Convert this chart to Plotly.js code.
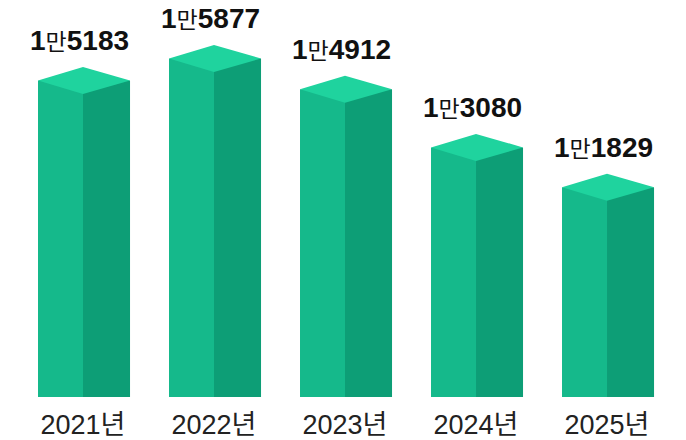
<!DOCTYPE html>
<html>
<head>
<meta charset="utf-8">
<script src="https://cdn.plot.ly/plotly-3.0.1.min.js"></script>
<style>
html,body{margin:0;padding:0;background:#fff;}
#chart{width:686px;height:440px;}
</style>
</head>
<body>
<div id="chart"></div>
<script>
// ---- data ----
const years = ["2021년", "2022년", "2023년", "2024년", "2025년"];
const values = [15183, 15877, 14912, 13080, 11829];
const labelMan = ["1", "1", "1", "1", "1"];        // 만 unit part
const labelRest = ["5183", "5877", "4912", "3080", "1829"];

// ---- style / geometry ----
const colTop = "#1fd39e";
const colLeft = "#15b98b";
const colRight = "#0d9e76";
const wLeft = 0.3435;   // left face width (x units)
const wRight = 0.359;   // right face width (x units)
const yMin = 5232, yMax = 17402; // axis range
const plotH = 440 - 43 - 10;
const pxPerUnit = plotH / (yMax - yMin);
const dTop = 13.5 / pxPerUnit;   // half-height of top rhombus in data units

const xs = years.map((_, i) => i);

const traces = [];
traces.push({
  type: "bar", x: xs, y: values, width: wLeft, offset: -wLeft,
  marker: {color: colLeft, line: {width: 0}}, hoverinfo: "skip"
});
traces.push({
  type: "bar", x: xs, y: values, width: wRight, offset: 0,
  marker: {color: colRight, line: {width: 0}}, hoverinfo: "skip"
});
values.forEach((v, i) => {
  traces.push({
    type: "scatter", mode: "lines", fill: "toself",
    x: [i - wLeft, i, i + wRight, i, i - wLeft],
    y: [v, v + dTop, v, v - dTop, v],
    fillcolor: colTop, line: {width: 0, color: colTop}, hoverinfo: "skip"
  });
});

const annotations = values.map((v, i) => ({
  x: i, y: v + dTop, xref: "x", yref: "y",
  xanchor: "center", yanchor: "bottom", yshift: 8, xshift: -4,
  showarrow: false,
  text: "<b>" + labelMan[i] + "</b><span style='font-family:Noto Sans CJK KR;font-size:23px;font-weight:normal'>만</span><b>" + labelRest[i] + "</b>",
  font: {family: "Liberation Sans, Arial, sans-serif", size: 28, color: "#111"}
}));

const layout = {
  width: 686, height: 440,
  margin: {l: 0, r: 0, t: 10, b: 43},
  paper_bgcolor: "#fff", plot_bgcolor: "#fff",
  showlegend: false,
  barmode: "overlay",
  xaxis: {
    range: [-0.6336, 4.603], tickvals: xs, ticktext: years,
    showgrid: false, zeroline: false, showline: false, ticks: "",
    ticklabelstandoff: 9,
    tickfont: {family: "Liberation Sans, Noto Sans CJK KR, sans-serif", size: 27, color: "#222"},
    fixedrange: true
  },
  yaxis: {
    range: [yMin, yMax], visible: false, showgrid: false, zeroline: false, fixedrange: true
  },
  annotations: annotations
};

Plotly.newPlot("chart", traces, layout, {displayModeBar: false, staticPlot: true});
</script>
</body>
</html>
